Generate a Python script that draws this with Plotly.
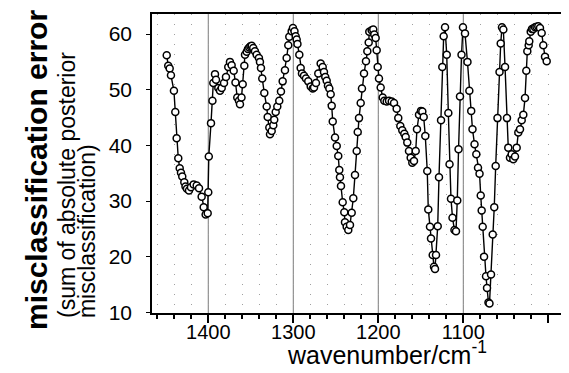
import plotly.graph_objects as go

# wavenumber (cm^-1) and misclassification error
wavenumber = [
    1448.9, 1447.1, 1445.4, 1443.9, 1440.4, 1438.8, 1437.2, 1435.3, 1433.6, 1432.1,
    1430.6, 1428.2, 1426.8, 1425.1, 1422.7, 1420.4, 1417.2, 1413.6, 1410.9, 1407.8,
    1405.4, 1403.1, 1400.7, 1400.0, 1399.4, 1396.8, 1395.1, 1394.1, 1392.1, 1390.9,
    1388.2, 1386.2, 1384.2, 1381.5, 1379.2, 1376.5, 1374.5, 1372.5, 1370.1, 1368.0,
    1365.9, 1363.9, 1362.7, 1360.9, 1359.5, 1357.6, 1356.8, 1354.8, 1353.3, 1351.8,
    1350.4, 1348.9, 1347.1, 1345.1, 1343.1, 1340.4, 1339.2, 1338.0, 1336.5, 1334.1,
    1331.3, 1330.1, 1328.2, 1327.4, 1325.4, 1323.5, 1322.4, 1320.7, 1318.8, 1316.5,
    1314.5, 1312.5, 1309.8, 1307.8, 1305.9, 1304.7, 1301.9, 1300.4, 1298.6, 1297.2,
    1296.0, 1295.1, 1292.9, 1291.3, 1289.8, 1287.4, 1285.1, 1282.4, 1279.5, 1277.2,
    1275.6, 1273.3, 1270.6, 1267.8, 1265.4, 1263.9, 1262.4, 1260.7, 1259.2, 1257.6,
    1256.0, 1254.8, 1253.6, 1250.9, 1248.9, 1247.1, 1245.9, 1245.1, 1243.9, 1241.9,
    1240.0, 1239.2, 1237.2, 1235.3, 1233.3, 1231.3, 1229.4, 1227.4, 1225.4, 1224.2,
    1222.7, 1220.7, 1219.2, 1216.8, 1214.5, 1212.9, 1211.3, 1210.6, 1207.8, 1205.9,
    1204.7, 1203.1, 1201.9, 1200.7, 1199.2, 1197.2, 1194.8, 1192.9, 1190.1, 1187.4,
    1184.2, 1181.5, 1178.4, 1176.5, 1174.1, 1171.8, 1169.4, 1167.8, 1165.9, 1163.9,
    1161.9, 1160.0, 1158.0, 1156.0, 1154.5, 1152.1, 1149.8, 1148.2, 1146.6, 1144.7,
    1142.4, 1141.2, 1139.2, 1138.0, 1136.0, 1134.5, 1133.3, 1132.1, 1130.1, 1128.6,
    1126.2, 1124.7, 1123.1, 1121.5, 1119.5, 1117.6, 1116.2, 1114.5, 1112.7, 1110.4,
    1108.6, 1107.1, 1105.6, 1103.9, 1102.1, 1100.4, 1098.0, 1095.1, 1092.9, 1090.7,
    1089.2, 1086.8, 1084.7, 1082.7, 1080.9, 1079.5, 1078.4, 1077.2, 1075.6, 1073.3,
    1072.1, 1070.4, 1069.2, 1067.4, 1065.4, 1063.6, 1061.9, 1059.8, 1057.4, 1056.0,
    1054.5, 1052.9, 1050.9, 1048.6, 1047.1, 1045.1, 1043.1, 1041.2, 1039.2, 1037.2,
    1035.3, 1033.3, 1031.3, 1029.4, 1027.4, 1025.9, 1024.7, 1023.1, 1022.4, 1020.7,
    1019.2, 1017.6, 1015.6, 1013.9, 1011.8, 1009.8, 1007.8, 1005.9, 1003.9, 1001.9,
]
error = [
    56.2, 54.3, 53.8, 52.6, 49.8, 46.0, 41.3, 37.7, 35.9, 35.1,
    34.4, 33.4, 32.6, 32.2, 31.9, 32.5, 33.0, 32.8, 32.3, 30.8,
    28.9, 27.6, 27.8, 31.6, 38.0, 44.0, 48.0, 51.2, 52.8, 51.8,
    50.3, 49.8, 50.3, 51.2, 52.3, 54.1, 55.0, 54.4, 53.4, 51.3,
    48.6, 48.0, 47.4, 48.6, 51.0, 54.3, 56.3, 56.8, 57.3, 57.6,
    57.8, 57.9, 57.5, 56.9, 56.3, 55.7, 55.0, 53.9, 52.0, 49.4,
    47.0, 45.1, 43.2, 42.0, 42.6, 43.6, 44.6, 46.0, 47.0, 48.0,
    49.7, 51.5, 53.5, 55.7, 58.0, 59.5, 60.5, 61.1, 60.5, 59.6,
    59.0, 58.2, 56.3, 53.9, 52.9, 52.5, 52.0, 51.5, 50.6, 50.2,
    50.4, 51.2, 52.9, 54.7, 54.1, 53.2, 52.3, 51.6, 50.7, 50.2,
    49.2, 47.1, 44.3, 41.4, 39.9, 38.1, 35.6, 34.3, 32.7, 29.8,
    28.0, 26.2, 25.4, 24.8, 25.7, 27.9, 30.5, 34.7, 39.0, 42.4,
    44.9, 47.6, 50.2, 52.9, 55.1, 56.9, 58.5, 60.4, 60.7, 60.8,
    59.9, 59.3, 57.1, 54.1, 52.0, 50.4, 48.6, 48.0, 47.9, 48.0,
    47.9, 47.6, 46.6, 44.9, 43.5, 42.7, 42.1, 41.5, 40.5, 39.0,
    37.8, 36.9, 37.2, 39.0, 42.9, 45.5, 46.2, 46.1, 45.1, 41.7,
    35.4, 28.5, 25.4, 23.3, 20.3, 18.2, 17.8, 20.3, 25.5, 34.3,
    44.5, 54.1, 59.6, 61.2, 56.3, 45.8, 36.6, 30.4, 27.0, 24.8,
    24.6, 30.1, 39.3, 48.8, 56.3, 61.2, 60.1, 55.0, 49.8, 46.2,
    42.9, 40.2, 38.4, 36.0, 34.9, 31.0, 28.3, 25.4, 20.0, 16.5,
    14.4, 11.8, 11.6, 16.8, 24.0, 28.9, 36.3, 44.9, 53.2, 58.3,
    61.2, 60.8, 54.1, 44.9, 39.6, 37.8, 38.4, 37.5, 38.0, 39.6,
    42.3, 42.9, 44.5, 45.5, 48.5, 53.4, 56.9, 58.0, 58.7, 60.4,
    60.9, 60.9, 61.2, 61.3, 61.4, 61.1, 60.2, 58.0, 55.9, 55.1,
]

x_tickvals = [1400, 1300, 1200, 1100, 1000]
x_ticktext = ["1400", "1300", "1200", "1100", ""]
y_tickvals = [10, 20, 30, 40, 50, 60]
solid_lines = [1400, 1300, 1200, 1100]

FONT = "Liberation Sans, Arial, Helvetica, sans-serif"

fig = go.Figure()
fig.add_trace(go.Scatter(
    x=wavenumber, y=error, mode="lines+markers",
    line=dict(color="black", width=1.4),
    marker=dict(symbol="circle", size=7, color="white",
                line=dict(color="black", width=1.5)),
    showlegend=False, hoverinfo="skip",
))

for v in solid_lines:
    fig.add_vline(x=v, line=dict(color="#7a7a7a", width=1), layer="below")

# page body adds an 8px offset, so the figure is 8px smaller than the window
fig.update_layout(
    width=561, height=365,
    margin=dict(l=144, r=7, t=4, b=60),
    paper_bgcolor="white", plot_bgcolor="white",
    font=dict(family=FONT, color="black", size=20),
    xaxis=dict(
        range=[1466.2, 983.9], tickvals=x_tickvals, ticktext=x_ticktext,
        ticks="outside", ticklen=8, tickwidth=1.5, tickcolor="black",
        ticklabelstandoff=-8,
        showline=True, linecolor="black", linewidth=1.5, mirror=True,
        showgrid=False, zeroline=False,
        tickfont=dict(size=20),
        minor=dict(dtick=20, tick0=1000, ticks="outside", ticklen=4,
                   tickcolor="black", showgrid=True, gridcolor="#a0a0a0",
                   griddash="1px,9px", gridwidth=1),
    ),
    yaxis=dict(
        range=[9.9, 63.6], tickvals=y_tickvals,
        ticks="outside", ticklen=4, tickwidth=1, tickcolor="black",
        ticklabelstandoff=10,
        showline=True, linecolor="black", linewidth=1.5, mirror=True,
        showgrid=False, zeroline=False,
        tickfont=dict(size=21),
    ),
    annotations=[
        dict(text="wavenumber/cm<sup>-1</sup>", xref="paper", yref="paper",
             x=0.573, y=-0.195, xanchor="center", yanchor="bottom",
             showarrow=False, font=dict(size=25)),
        dict(text="<b>misclassification error</b>", xref="paper", yref="paper",
             x=-0.283, y=0.478, xanchor="center", yanchor="middle",
             textangle=-90, showarrow=False, font=dict(size=30)),
        dict(text="(sum of absolute posterior", xref="paper", yref="paper",
             x=-0.207, y=-0.023, xanchor="center", yanchor="bottom",
             textangle=-90, showarrow=False, font=dict(size=23)),
        dict(text="misclassification)", xref="paper", yref="paper",
             x=-0.158, y=-0.023, xanchor="center", yanchor="bottom",
             textangle=-90, showarrow=False, font=dict(size=23)),
    ],
)

fig.write_html("out.html")
